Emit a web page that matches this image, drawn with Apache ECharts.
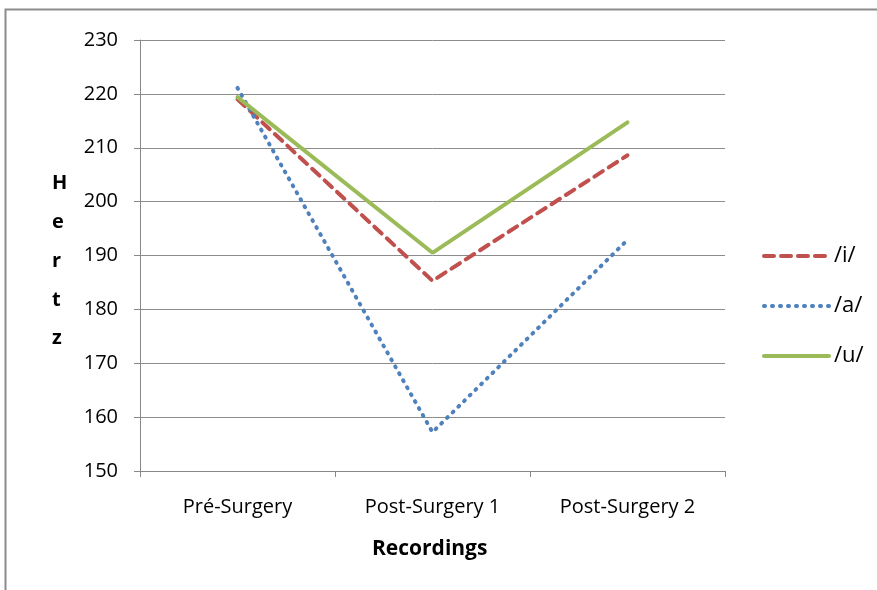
<!DOCTYPE html>
<html><head><meta charset="utf-8">
<script src="https://cdn.jsdelivr.net/npm/echarts@6/dist/echarts.min.js"></script>
<style>html,body{margin:0;padding:0;background:#fff}#c{width:877px;height:590px}</style>
</head><body><div id="c"></div>
<script>
const categories = ['Pré-Surgery', 'Post-Surgery 1', 'Post-Surgery 2'];
const seriesI = [219, 185.3, 208.6];
const seriesA = [221.1, 157.2, 192.9];
const seriesU = [219.4, 190.5, 214.7];
const yTicks = [150, 160, 170, 180, 190, 200, 210, 220, 230];

const chart = echarts.init(document.getElementById('c'));
const font = '"Open Sans", "Noto Sans", sans-serif';
chart.setOption({
  animation: false,
  grid: { left: 140, right: 152, top: 40, bottom: 119 },
  graphic: [
    { type: 'rect', shape: { x: 5.5, y: 9.5, width: 900, height: 600 }, style: { fill: 'none', stroke: '#8c8c8c', lineWidth: 2 } },
    { type: 'text', left: 52, top: 164, style: { text: 'H\ne\nr\nt\nz', font: 'bold 20px ' + font, lineHeight: 38.8, fill: '#000', align: 'center' } },
    { type: 'text', left: 372, top: 539, style: { text: 'Recordings', font: 'bold 21px ' + font, fill: '#000' } }
  ],
  legend: {
    orient: 'vertical', left: 757, top: 240, itemGap: 28, itemWidth: 65, itemHeight: 14,
    textStyle: { fontSize: 22, fontFamily: font, color: '#000' },
    itemStyle: { opacity: 0 },
    lineStyle: { width: 4 },
    data: ['/i/', '/a/', '/u/']
  },
  xAxis: {
    type: 'category', data: categories, boundaryGap: true,
    axisLine: { lineStyle: { color: '#888', width: 1 } },
    axisTick: { show: true, alignWithLabel: false, length: 6, lineStyle: { color: '#888' } },
    axisLabel: { fontSize: 20, fontFamily: font, color: '#000', margin: 26 }
  },
  yAxis: {
    type: 'value', min: yTicks[0], max: yTicks[yTicks.length - 1], interval: 10,
    axisLine: { show: true, lineStyle: { color: '#888' } },
    axisTick: { show: true, length: 6, lineStyle: { color: '#888' } },
    axisLabel: { fontSize: 20, fontFamily: font, color: '#000', margin: 22 },
    splitLine: { lineStyle: { color: '#8c8c8c', width: 1 } }
  },
  series: [
    { name: '/i/', type: 'line', data: seriesI, symbol: 'none', color: '#c0504d',
      lineStyle: { color: '#c0504d', width: 4, type: [10, 7], cap: 'round' } },
    { name: '/a/', type: 'line', data: seriesA, symbol: 'none', color: '#4f81bd',
      lineStyle: { color: '#4f81bd', width: 4, type: [1, 7], cap: 'round' } },
    { name: '/u/', type: 'line', data: seriesU, symbol: 'none', color: '#9bbb59',
      lineStyle: { color: '#9bbb59', width: 4, cap: 'round' } }
  ]
});
</script></body></html>
